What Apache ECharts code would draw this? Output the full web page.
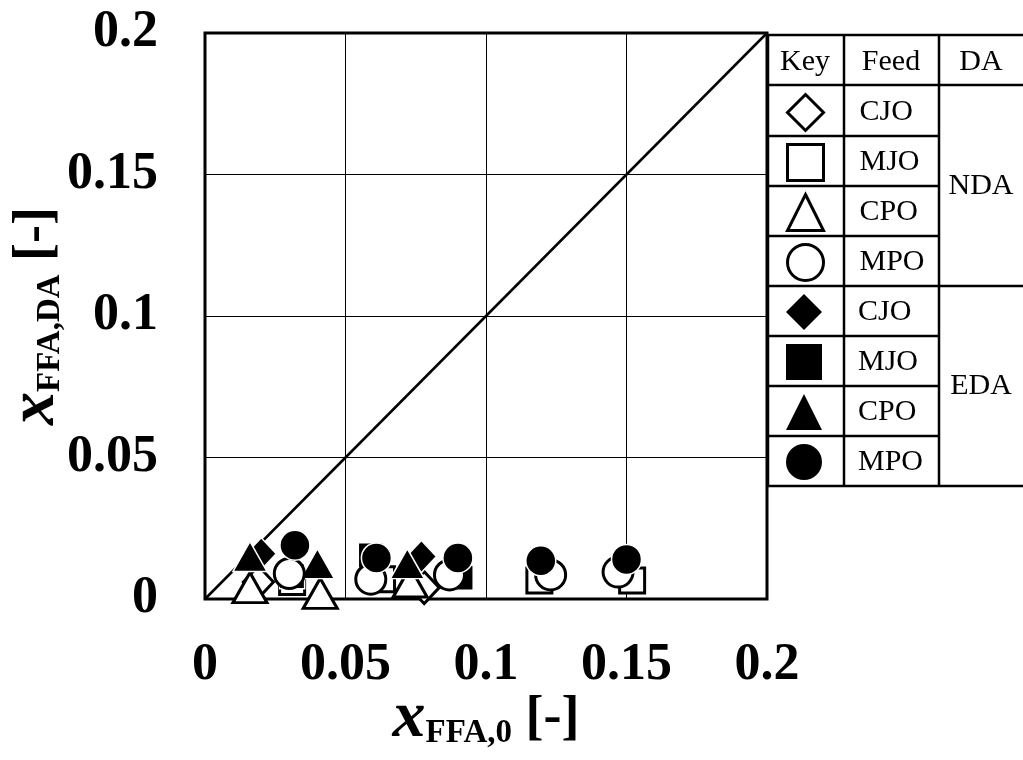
<!DOCTYPE html>
<html><head><meta charset="utf-8">
<script src="https://cdn.jsdelivr.net/npm/echarts@6/dist/echarts.min.js"></script>
<style>html,body{margin:0;padding:0;background:#fff}#c{width:1023px;height:760px}</style>
</head><body><div id="c"></div>
<script>
// ---- data ----
const feeds = ['CJO', 'MJO', 'CPO', 'MPO'];
const methods = ['NDA', 'EDA'];
const tickValues = [0, 0.05, 0.1, 0.15, 0.2];
const tickLabels = ['0', '0.05', '0.1', '0.15', '0.2'];
const parityLine = [[0, 0], [0.2, 0.2]];

// NDA (open markers)
const ndaCJO = [[0.019, 0.006], [0.078, 0.004]];
const ndaMJO = [[0.031, 0.006], [0.063, 0.007], [0.119, 0.0065], [0.152, 0.0065]];
const ndaCPO = [[0.016, 0.004], [0.041, 0.002], [0.073, 0.006]];
const ndaMPO = [[0.030, 0.009], [0.059, 0.007], [0.087, 0.0085], [0.123, 0.0085], [0.147, 0.0095]];
// EDA (filled markers)
const edaCJO = [[0.020, 0.016], [0.077, 0.015]];
const edaMJO = [[0.031, 0.008], [0.059, 0.0155], [0.091, 0.0075]];
const edaCPO = [[0.016, 0.015], [0.040, 0.0125], [0.072, 0.0125]];
const edaMPO = [[0.032, 0.019], [0.061, 0.0145], [0.090, 0.0145], [0.1195, 0.0135], [0.150, 0.014]];

const seriesData = {
  'NDA CJO': ndaCJO, 'NDA MJO': ndaMJO, 'NDA CPO': ndaCPO, 'NDA MPO': ndaMPO,
  'EDA CJO': edaCJO, 'EDA MJO': edaMJO, 'EDA CPO': edaCPO, 'EDA MPO': edaMPO
};
const symbolOf = { CJO: 'diamond', MJO: 'rect', CPO: 'triangle', MPO: 'circle' };
const sizeOf = { CJO: [30, 32], MJO: [25, 25], CPO: [34, 30], MPO: [30, 30] };

const FONT = 'Liberation Serif';
const openStyle = { color: '#fff', borderColor: '#000', borderWidth: 3, opacity: 1 };
const fillStyle = { color: '#000', borderColor: '#fff', borderWidth: 1.5, opacity: 1 };
const series = [];
series.push({
  type: 'line', name: 'parity', data: parityLine, symbol: 'none', silent: true,
  lineStyle: { color: '#000', width: 2.5 }, z: 1
});
// drawing order: by feed, NDA below EDA
let zOrder = 2;
feeds.forEach(f => {
  methods.forEach(m => {
    const name = m + ' ' + f;
    const open = m === 'NDA';
    series.push({
      type: 'scatter', name: name, data: seriesData[name],
      symbol: symbolOf[f], symbolSize: sizeOf[f],
      itemStyle: open ? openStyle : fillStyle,
      z: zOrder++
    });
  });
});
const legendData = {};
methods.forEach(m => {
  legendData[m] = feeds.map(f => ({
    name: m + ' ' + f, icon: symbolOf[f],
    itemStyle: m === 'NDA' ? { color: '#fff', borderColor: '#000', borderWidth: 3 } : { color: '#000', borderColor: '#000', borderWidth: 0 }
  }));
});

// table graphics
const g = [];
const L = (x1, y1, x2, y2, w) => g.push({ type: 'line', shape: { x1, y1, x2, y2 }, style: { stroke: '#000', lineWidth: w || 2.5 }, silent: true });
const T = (x, y, t) => g.push({ type: 'text', x, y, style: { text: t, font: '30px "' + FONT + '"', fill: '#000', align: 'center', verticalAlign: 'middle' }, silent: true });
L(767, 35, 1023, 35);
[85, 136, 186, 236, 286, 336, 386, 436, 486].forEach(y => L(767, y, 939, y));
[85, 286, 486].forEach(y => L(939, y, 1023, y));
[768, 844, 939].forEach(x => L(x, 34, x, 487));
T(805, 62, 'Key'); T(891, 62, 'Feed'); T(981, 62, 'DA');
T(981, 186, 'NDA'); T(981, 386, 'EDA');

const legendBase = {
  orient: 'vertical', left: 786, padding: 0,
  itemWidth: 36, itemHeight: 36, selectedMode: false,
  formatter: n => n.split(' ')[1],
  textStyle: { fontFamily: FONT, fontSize: 30, color: '#000', lineHeight: 36, padding: [0, 0, 0, 31] }
};

const titleRich = {
  x: { fontFamily: FONT, fontStyle: 'italic', fontWeight: 'bold', fontSize: 66, lineHeight: 64, color: '#000' },
  s: { fontFamily: FONT, fontWeight: 'bold', fontSize: 33, lineHeight: 33, padding: [28, 0, 0, 0], color: '#000' },
  b: { fontFamily: FONT, fontWeight: 'bold', fontSize: 54, lineHeight: 64, color: '#000' }
};

const option = {
  backgroundColor: '#fff',
  animation: false,
  grid: { left: 205, top: 33, width: 562, height: 566, outerBoundsMode: 'none', containLabel: false,
    show: true, borderColor: '#000', borderWidth: 3, backgroundColor: 'transparent' },
  xAxis: {
    type: 'value', min: tickValues[0], max: tickValues[tickValues.length - 1], interval: 0.05,
    axisLine: { show: false }, axisTick: { show: false },
    splitLine: { show: true, lineStyle: { color: '#000', width: 1 } },
    axisLabel: { margin: 41, fontFamily: FONT, fontWeight: 'bold', fontSize: 52, color: '#000',
      formatter: v => tickLabels[tickValues.findIndex(t => Math.abs(t - v) < 1e-9)] },
    name: '{x|x}{s|FFA,0}{b| [-]}', nameLocation: 'middle', nameGap: 88, nameMoveOverlap: false,
    nameTextStyle: { rich: titleRich }
  },
  yAxis: {
    type: 'value', min: tickValues[0], max: tickValues[tickValues.length - 1], interval: 0.05,
    axisLine: { show: false }, axisTick: { show: false },
    splitLine: { show: true, lineStyle: { color: '#000', width: 1 } },
    axisLabel: { margin: 47, fontFamily: FONT, fontWeight: 'bold', fontSize: 52, color: '#000',
      formatter: v => tickLabels[tickValues.findIndex(t => Math.abs(t - v) < 1e-9)] },
    name: '{x|x}{s|FFA,DA}{b| [-]}', nameLocation: 'middle', nameGap: 137, nameRotate: 90, nameMoveOverlap: false,
    nameTextStyle: { rich: titleRich }
  },
  legend: [
    Object.assign({}, legendBase, { data: legendData.NDA, top: 93, itemGap: 11 }),
    Object.assign({}, legendBase, { data: legendData.EDA, top: 294, itemGap: 14 })
  ],
  graphic: g,
  series: series
};
echarts.init(document.getElementById('c'), null, { renderer: 'canvas' }).setOption(option);
</script></body></html>
